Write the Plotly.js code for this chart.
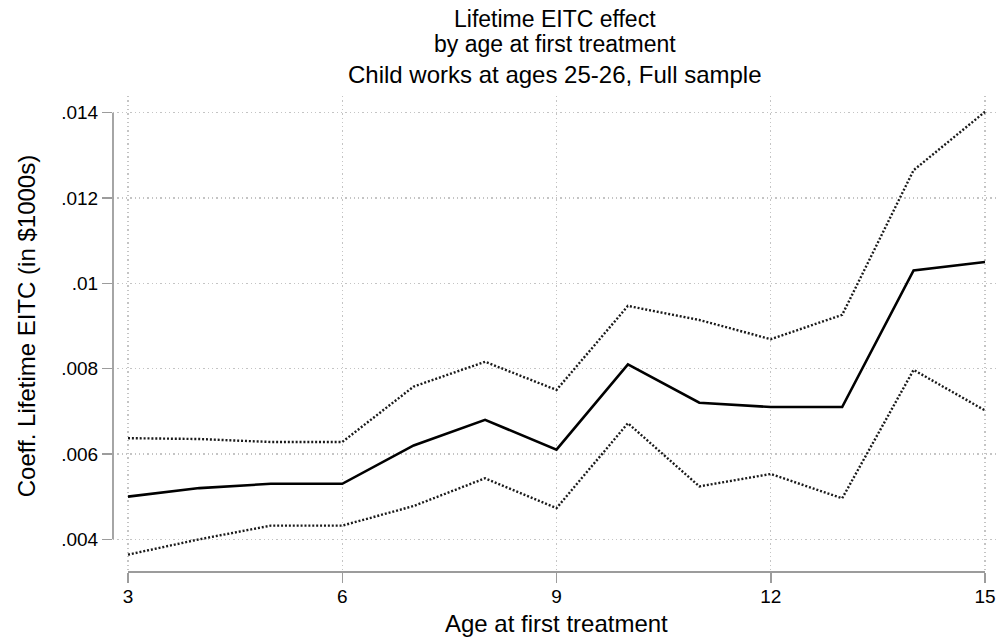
<!DOCTYPE html>
<html>
<head>
<meta charset="utf-8">
<script src="https://cdn.plot.ly/plotly-3.0.1.min.js"></script>
<style>
  html, body { margin: 0; padding: 0; background: #ffffff; }
  #chart { width: 998px; height: 638px; }
</style>
</head>
<body>
<div id="chart"></div>
<script>
// Age at first treatment
const ages = [3, 4, 5, 6, 7, 8, 9, 10, 11, 12, 13, 14, 15];
// Point estimate of the lifetime EITC coefficient
const coef = [0.0050, 0.0052, 0.0053, 0.0053, 0.0062, 0.0068, 0.0061, 0.0081, 0.0072, 0.0071, 0.0071, 0.0103, 0.0105];
// Upper and lower confidence bounds
const upperCI = [0.00637, 0.00635, 0.00628, 0.00628, 0.00758, 0.00816, 0.00750, 0.00947, 0.00914, 0.00869, 0.00926, 0.01265, 0.01402];
const lowerCI = [0.00364, 0.00400, 0.00432, 0.00432, 0.00478, 0.00543, 0.00473, 0.00672, 0.00524, 0.00553, 0.00496, 0.00797, 0.00702];

// Axis ticks
const xTickVals = [3, 6, 9, 12, 15];
const xTickText = ['3', '6', '9', '12', '15'];
const yTickVals = [0.004, 0.006, 0.008, 0.010, 0.012, 0.014];
const yTickText = ['.004', '.006', '.008', '.01', '.012', '.014'];

const FONT = 'Liberation Sans, Arial, Helvetica, sans-serif';
const AXIS_GRAY = '#9c9c9c';
const GRID = '#c4c4c4';
const TITLE_SIZE = 24;
const TICK_SIZE = 19;

const ciLine = { color: '#1a1a1a', width: 2.4, dash: '2px,1.9px' };

const traces = [
  { x: ages, y: upperCI, type: 'scatter', mode: 'lines', line: ciLine, hoverinfo: 'skip', showlegend: false },
  { x: ages, y: lowerCI, type: 'scatter', mode: 'lines', line: ciLine, hoverinfo: 'skip', showlegend: false },
  { x: ages, y: coef, type: 'scatter', mode: 'lines', line: { color: '#000000', width: 2.6 }, showlegend: false }
];

const xMin = Math.min(...xTickVals), xMax = Math.max(...xTickVals);
const yMin = Math.min(...yTickVals), yMax = Math.max(...yTickVals);

const axisCommon = {
  tickmode: 'array',
  ticks: 'outside',
  ticklen: 10,
  tickwidth: 1.5,
  tickcolor: AXIS_GRAY,
  tickfont: { family: FONT, size: TICK_SIZE, color: '#000' },
  showline: false,
  zeroline: false,
  showgrid: true,
  gridcolor: GRID,
  gridwidth: 1.2,
  griddash: '1.3px,3px'
};

const titleFont = { family: FONT, size: TITLE_SIZE, color: '#000' };
const headFont = { family: FONT, size: 23, color: '#000' };

const layout = {
  width: 998,
  height: 638,
  margin: { l: 113, r: 1, t: 96, b: 66 },
  paper_bgcolor: '#ffffff',
  plot_bgcolor: '#ffffff',
  font: { family: FONT, color: '#000000', size: TICK_SIZE },
  showlegend: false,
  xaxis: Object.assign({}, axisCommon, {
    range: [2.79, 15.168],
    tickvals: xTickVals,
    ticktext: xTickText,
    ticklabelstandoff: -3
  }),
  yaxis: Object.assign({}, axisCommon, {
    range: [0.003233, 0.01439],
    tickvals: yTickVals,
    ticktext: yTickText
  }),
  shapes: [
    // y axis line spanning the labelled tick range
    { type: 'line', xref: 'paper', yref: 'y', x0: 0, x1: 0, y0: yMin, y1: yMax,
      line: { color: AXIS_GRAY, width: 1.8 } },
    // x axis line spanning the labelled tick range
    { type: 'line', xref: 'x', yref: 'paper', x0: xMin, x1: xMax, y0: 0, y1: 0,
      line: { color: AXIS_GRAY, width: 1.8 } }
  ],
  annotations: [
    { text: 'Lifetime EITC effect', xref: 'paper', yref: 'paper', x: 0.5, y: 1.1618,
      xanchor: 'center', yanchor: 'middle', showarrow: false, font: headFont },
    { text: 'by age at first treatment', xref: 'paper', yref: 'paper', x: 0.5, y: 1.1092,
      xanchor: 'center', yanchor: 'middle', showarrow: false, font: headFont },
    { text: 'Child works at ages 25-26, Full sample', xref: 'paper', yref: 'paper', x: 0.5, y: 1.045,
      xanchor: 'center', yanchor: 'middle', showarrow: false, font: titleFont },
    { text: 'Age at first treatment', xref: 'x', yref: 'paper', x: (xMin + xMax) / 2, y: -0.108,
      xanchor: 'center', yanchor: 'middle', showarrow: false, font: titleFont },
    { text: 'Coeff. Lifetime EITC (in $1000s)', xref: 'paper', yref: 'y', x: -0.097, y: (yMin + yMax) / 2,
      xanchor: 'center', yanchor: 'middle', textangle: -90, showarrow: false, font: titleFont }
  ]
};

Plotly.newPlot('chart', traces, layout, { displayModeBar: false, staticPlot: true });
</script>
</body>
</html>
